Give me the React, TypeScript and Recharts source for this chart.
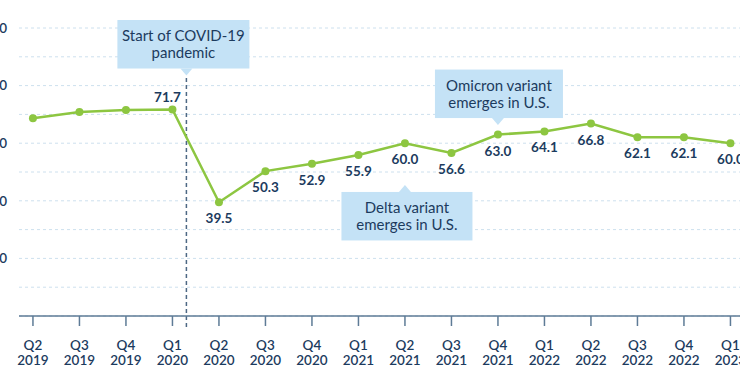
import React from 'react';
import { LineChart, Line, XAxis, YAxis, CartesianGrid, ReferenceLine, ReferenceDot, LabelList } from 'recharts';

const quarters = ['Q2', 'Q3', 'Q4', 'Q1', 'Q2', 'Q3', 'Q4', 'Q1', 'Q2', 'Q3', 'Q4', 'Q1', 'Q2', 'Q3', 'Q4', 'Q1'];
const years = ['2019', '2019', '2019', '2020', '2020', '2020', '2020', '2021', '2021', '2021', '2021', '2022', '2022', '2022', '2022', '2023'];
const values = [68.7, 70.8, 71.5, 71.7, 39.5, 50.3, 52.9, 55.9, 60.0, 56.6, 63.0, 64.1, 66.8, 62.1, 62.1, 60.0];
const showLabel = [false, false, false, true, true, true, true, true, true, true, true, true, true, true, true, true];
const labelAbove = [false, false, false, true, false, false, false, false, false, false, false, false, false, false, false, false];
const yTicks = [0, 10, 20, 30, 40, 50, 60, 70, 80, 90, 100];
const yLabelled = [20, 40, 60, 80, 100];

const covidLine = { x: 3.3, yFrom: -3.8, yTo: 83.5 };

const annotations = [
  { lines: ['Start of COVID-19', 'pandemic'], x: 3.3, y: 83.5, dir: 'down', w: 132, dx: -3 },
  { lines: ['Omicron variant', 'emerges in U.S.'], x: 10, y: 66.3, dir: 'down', w: 128, dx: 1 },
  { lines: ['Delta variant', 'emerges in U.S.'], x: 8, y: 45.5, dir: 'up', w: 131, dx: 2 },
];

const data = values.map((v, i) => ({ i, q: quarters[i], yr: years[i], v }));
const xTicks = data.map((d) => d.i);

const NAVY = '#1c3b5e';
const GREEN = '#8dc641';
const BOX = '#c4e2f6';
const FONT = 'Lato, "Open Sans", sans-serif';

const XTick = (props: any) => {
  const { x, y, payload } = props;
  const idx = payload.value;
  return (
    <g>
      <text x={x} y={y + 21.5} textAnchor="middle" fill={NAVY} fontSize={13.5} fontWeight={600} fontFamily={FONT}>
        {quarters[idx]}
      </text>
      <text x={x} y={y + 37} textAnchor="middle" fill={NAVY} fontSize={13.5} fontWeight={600} fontFamily={FONT}>
        {years[idx]}
      </text>
    </g>
  );
};

const Callout = (props: any) => {
  const { cx, cy, lines, dir, w, dx } = props;
  if (cx == null || cy == null) return null;
  const h = 48.5;
  const gap = 7;
  const half = 6;
  const left = cx + dx - w / 2;
  const top = dir === 'down' ? cy - gap - h : cy + gap;
  const tri =
    dir === 'down'
      ? `M${cx - half},${cy - gap} L${cx},${cy} L${cx + half},${cy - gap} Z`
      : `M${cx - half},${cy + gap} L${cx},${cy} L${cx + half},${cy + gap} Z`;
  const midY = top + h / 2;
  return (
    <g>
      <rect x={left} y={top} width={w} height={h} fill={BOX} />
      <path d={tri} fill={BOX} />
      <text x={cx + dx} y={midY - 3} textAnchor="middle" fill={NAVY} fontSize={15} fontFamily={FONT}>
        {lines[0]}
      </text>
      <text x={cx + dx} y={midY + 14} textAnchor="middle" fill={NAVY} fontSize={15} fontFamily={FONT}>
        {lines[1]}
      </text>
    </g>
  );
};

const ValueLabel = (props: any) => {
  const { x, y, value, index } = props;
  if (index == null || !showLabel[index]) return null;
  const above = labelAbove[index];
  return (
    <text
      x={above ? x - 5 : x}
      y={above ? y - 8 : y + 21}
      textAnchor="middle"
      fill={NAVY}
      fontSize={13.5}
      fontWeight={700}
      fontFamily={FONT}
    >
      {Number(value).toFixed(1)}
    </text>
  );
};

export default function App() {
  return (
    <div style={{ position: 'absolute', left: 0, top: 0, width: 740, height: 391, overflow: 'hidden', background: '#fff' }}>
      <div style={{ position: 'absolute', left: -40, top: 0 }}>
        <LineChart width={803} height={391} data={data} margin={{ top: 28, right: 0, bottom: 0, left: 0 }}>
          <CartesianGrid horizontal vertical={false} stroke="#cde0ee" strokeDasharray="3 3" />
          <XAxis
            dataKey="i"
            type="number"
            domain={[-0.3, 15.7]}
            ticks={xTicks}
            interval={0}
            allowDataOverflow
            height={75}
            tickSize={10}
            axisLine={{ stroke: '#5e7b96', strokeWidth: 1.5 }}
            tickLine={{ stroke: '#5e7b96', strokeWidth: 1.5 }}
            tick={(p: any) => <XTick {...p} />}
          />
          <YAxis
            type="number"
            domain={[0, 100]}
            ticks={yTicks}
            interval={0}
            width={59}
            axisLine={false}
            tickLine={false}
            tickSize={0}
            tickMargin={12}
            tickFormatter={(v: number) => (yLabelled.includes(v) ? String(v) : '')}
            tick={{ fill: NAVY, fontSize: 13.5, fontFamily: FONT, fontWeight: 600 }}
          />
          <ReferenceLine
            segment={[{ x: covidLine.x, y: covidLine.yFrom }, { x: covidLine.x, y: covidLine.yTo }]}
            stroke="#4d6884"
            strokeWidth={1.5}
            strokeDasharray="4 3"
            ifOverflow="visible"
          />
          {annotations.map((a, k) => (
            <ReferenceDot
              key={k}
              x={a.x}
              y={a.y}
              r={0}
              ifOverflow="visible"
              shape={(p: any) => <Callout {...p} lines={a.lines} dir={a.dir} w={a.w} dx={a.dx} />}
            />
          ))}
          <Line
            dataKey="v"
            stroke={GREEN}
            strokeWidth={2.5}
            dot={{ r: 4, fill: GREEN, stroke: GREEN, strokeWidth: 0 }}
            activeDot={false}
            isAnimationActive={false}
          >
            <LabelList dataKey="v" content={(p: any) => <ValueLabel {...p} />} />
          </Line>
        </LineChart>
      </div>
    </div>
  );
}
